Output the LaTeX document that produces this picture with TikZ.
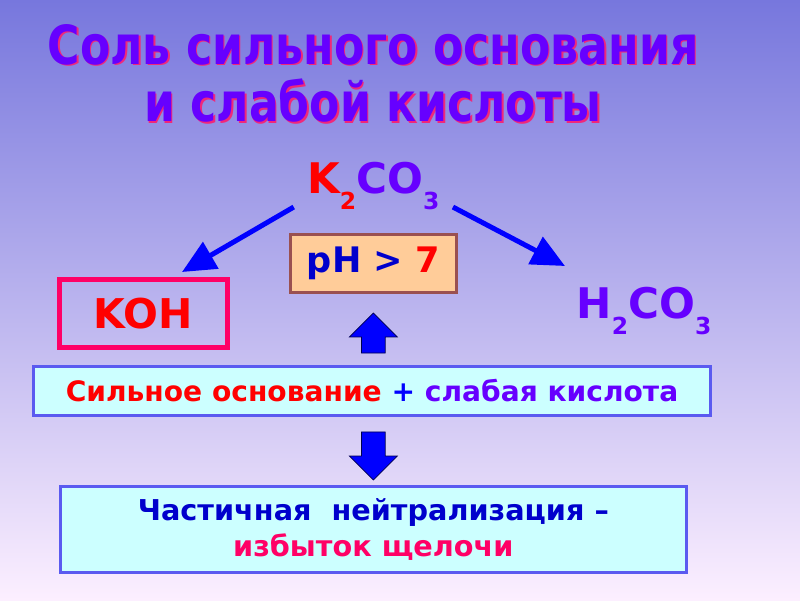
\documentclass[tikz,border=0pt]{standalone}
\usepackage{fontspec}
\setmainfont{DejaVu Sans}
\newfontfamily\titlefont[FakeStretch=0.82]{DejaVu Sans}
\usepackage{xcolor}
\usepackage{tikz}
\usetikzlibrary{arrows.meta,positioning,shapes.arrows}
\definecolor{bgtop}{HTML}{7777DD}
\definecolor{bgbottom}{HTML}{FCEFFF}
\definecolor{violet}{HTML}{6600FF}
\definecolor{shadowpink}{HTML}{F0287A}
\definecolor{saltred}{HTML}{FF0000}
\definecolor{arrowblue}{HTML}{0000FF}
\definecolor{textblue}{HTML}{0000CC}
\definecolor{crimson}{HTML}{FF0066}
\definecolor{peach}{HTML}{FFCC99}
\definecolor{brownline}{HTML}{9A5050}
\definecolor{aqua}{HTML}{CCFFFF}
\definecolor{boxblue}{HTML}{5A5AF0}
\newcommand{\chemsub}[1]{\raisebox{-14pt}{\fontsize{20}{20}\selectfont #1}}
\tikzset{
  titletext/.style={align=center, font=\titlefont\bfseries\fontsize{46}{49}\selectfont},
  formula/.style={font=\bfseries\fontsize{36}{40}\selectfont, inner xsep=0.4cm, inner ysep=2pt},
  basebox/.style={draw=crimson, line width=0.15cm, fill=none, minimum width=5.04cm, minimum height=2.04cm, font=\bfseries\fontsize{35}{40}\selectfont, text=saltred},
  phbox/.style={draw=brownline, line width=0.09cm, fill=peach, minimum width=4.98cm, minimum height=1.74cm, font=\bfseries\fontsize{30}{32}\selectfont},
  infobox/.style={draw=boxblue, line width=0.09cm, fill=aqua, align=center},
  arrow/.style={-{Triangle[length=10mm, width=9mm]}, line width=0.15cm, draw=arrowblue},
  blockarrow/.style={single arrow, draw=black!70!blue, line width=0.6pt, fill=arrowblue, minimum height=1.2cm, minimum width=1.41cm, single arrow head extend=0.36cm, inner xsep=0pt, inner ysep=0.345cm}
}
\begin{document}
\begin{tikzpicture}
  \useasboundingbox (0,0) rectangle (24,18);
  \shade[top color=bgtop, bottom color=bgbottom] (0,0) rectangle (24,18);

  \node[titletext, text=shadowpink] (titleshadow) at (11.24,15.75) {Соль сильного основания\\и слабой кислоты};
  \node[titletext, text=violet] (title) at (11.19,15.8) {Соль сильного основания\\и слабой кислоты};

  \node[formula, anchor=base] (k2co3) at (11.2,12.21) {\textcolor{saltred}{K\chemsub{2}}\textcolor{violet}{CO\chemsub{3}}};
  \node[phbox] (ph) at (11.2,10.095) {\textcolor{textblue}{pH >} \textcolor{saltred}{7}};
  \node[basebox] (koh) at (4.305,8.595) {KOH};
  \node[formula, anchor=base, text=violet] (h2co3) at (19.32,8.46) {H\chemsub{2}CO\chemsub{3}};

  \coordinate (kohtip) at (5.46,9.84);
  \coordinate (acidtip) at (16.95,10.02);
  \draw[arrow] (k2co3.195) -- (kohtip);
  \draw[arrow] (k2co3.-15) -- (acidtip);

  \node[infobox, minimum width=20.31cm, minimum height=1.47cm, font=\bfseries\fontsize{24}{31}\selectfont] (mix) at (11.16,6.27) {\textcolor{saltred}{Сильное основание} \textcolor{arrowblue}{+} \textcolor{violet}{слабая кислота}};
  \node[infobox, minimum width=18.78cm, minimum height=2.58cm, font=\bfseries\fontsize{24.5}{31}\selectfont] (result) at (11.2,2.115) {\textcolor{textblue}{Частичная\ \ нейтрализация –}\\\textcolor{crimson}{избыток щелочи}};

  \node[blockarrow, rotate=90] (up) at (11.2,7.83) {};
  \node[blockarrow, rotate=-90, minimum height=1.44cm] (down) at (11.2,4.5) {};
\end{tikzpicture}
\end{document}
